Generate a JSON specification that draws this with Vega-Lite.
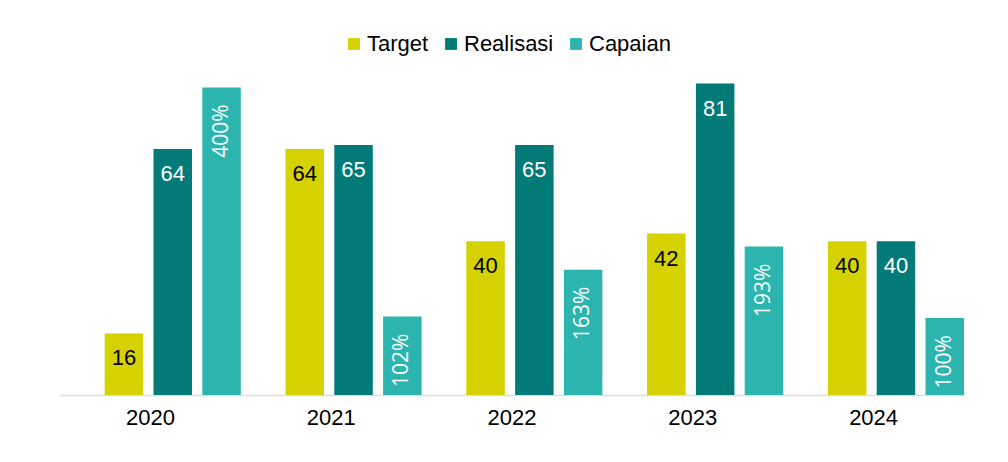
{
  "$schema": "https://vega.github.io/schema/vega-lite/v6.json",
  "width": 904,
  "height": 346,
  "autosize": {"type": "none"},
  "padding": {"left": 60, "top": 49, "right": 44, "bottom": 67},
  "background": "white",
  "config": {"view": {"stroke": null}},
  "data": {
    "values": [
      {"year": "2020", "series": "Target", "value": 16, "label": "16"},
      {"year": "2020", "series": "Realisasi", "value": 64, "label": "64"},
      {"year": "2020", "series": "Capaian", "value": 400, "label": "400%"},
      {"year": "2021", "series": "Target", "value": 64, "label": "64"},
      {"year": "2021", "series": "Realisasi", "value": 65, "label": "65"},
      {"year": "2021", "series": "Capaian", "value": 102, "label": "102%"},
      {"year": "2022", "series": "Target", "value": 40, "label": "40"},
      {"year": "2022", "series": "Realisasi", "value": 65, "label": "65"},
      {"year": "2022", "series": "Capaian", "value": 163, "label": "163%"},
      {"year": "2023", "series": "Target", "value": 42, "label": "42"},
      {"year": "2023", "series": "Realisasi", "value": 81, "label": "81"},
      {"year": "2023", "series": "Capaian", "value": 193, "label": "193%"},
      {"year": "2024", "series": "Target", "value": 40, "label": "40"},
      {"year": "2024", "series": "Realisasi", "value": 40, "label": "40"},
      {"year": "2024", "series": "Capaian", "value": 100, "label": "100%"}
    ]
  },
  "encoding": {
    "x": {
      "field": "year",
      "type": "nominal",
      "scale": {"paddingInner": 0, "paddingOuter": 0},
      "axis": {
        "title": null,
        "labelAngle": 0,
        "labelFont": "Liberation Sans",
        "labelFontSize": 22,
        "labelColor": "#000000",
        "labelPadding": 12,
        "ticks": false,
        "domainColor": "#D9DEE6",
        "domainWidth": 1.5,
        "grid": false
      }
    },
    "xOffset": {
      "field": "series",
      "type": "nominal",
      "scale": {
        "domain": ["Target", "Realisasi", "Capaian"],
        "paddingInner": 0.211,
        "paddingOuter": 0.458,
        "align": 1
      }
    }
  },
  "layer": [
    {
      "transform": [{"filter": "datum.series !== 'Capaian'"}],
      "encoding": {
        "y": {"field": "value", "type": "quantitative", "scale": {"domain": [0, 90]}, "axis": null}
      },
      "layer": [
        {
          "mark": {"type": "bar"},
          "encoding": {
            "color": {
              "field": "series",
              "type": "nominal",
              "scale": {
                "domain": ["Target", "Realisasi", "Capaian"],
                "range": ["#D5D200", "#017A78", "#2BB5AE"]
              },
              "legend": {
                "title": null,
                "orient": "none",
                "direction": "horizontal",
                "legendX": 283,
                "legendY": -16,
                "symbolType": "square",
                "symbolSize": 140,
                "symbolStrokeWidth": 0,
                "labelFont": "Liberation Sans",
                "labelFontSize": 22,
                "labelColor": "#000000",
                "labelOffset": 2,
                "columnPadding": 11
              }
            }
          }
        },
        {
          "mark": {"type": "text", "font": "Liberation Sans", "fontSize": 22, "baseline": "middle", "dy": 25},
          "encoding": {
            "text": {"field": "label"},
            "color": {"condition": {"test": "datum.series === 'Target'", "value": "#000000"}, "value": "#FFFFFF"}
          }
        }
      ]
    },
    {
      "transform": [{"filter": "datum.series === 'Capaian'"}],
      "encoding": {
        "y": {"field": "value", "type": "quantitative", "scale": {"domain": [0, 450]}, "axis": null}
      },
      "layer": [
        {
          "mark": {"type": "bar"},
          "encoding": {
            "color": {"field": "series", "type": "nominal"}
          }
        },
        {
          "mark": {"type": "text", "font": "Open Sans", "fontSize": 21, "angle": 270, "align": "right", "baseline": "middle", "dx": -17, "color": "#FFFFFF"},
          "encoding": {
            "text": {"field": "label"}
          }
        }
      ]
    }
  ],
  "resolve": {"scale": {"y": "independent"}}
}
